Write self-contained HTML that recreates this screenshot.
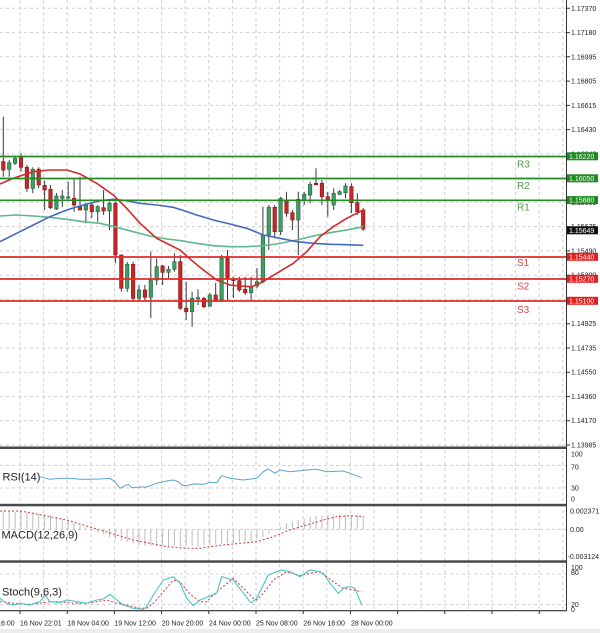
<!DOCTYPE html>
<html><head><meta charset="utf-8">
<style>
html,body{margin:0;padding:0;background:#fff;}
svg{display:block;}
text{font-family:"Liberation Sans",Arial,sans-serif;}
</style></head>
<body>
<svg width="600" height="633" viewBox="0 0 600 633" xmlns="http://www.w3.org/2000/svg">
<rect x="0" y="0" width="600" height="633" fill="#ffffff"/>
<rect x="0" y="629" width="600" height="4" fill="#ececec"/>

<!-- vertical grid -->
<path d="M20 0V610M43.6 0V610M67.2 0V610M90.8 0V610M114.4 0V610M138 0V610M161.6 0V610M185.2 0V610M208.8 0V610M232.4 0V610M256 0V610M279.6 0V610M303.2 0V610M326.8 0V610M350.4 0V610M374 0V610M397.6 0V610M421.2 0V610M444.8 0V610M468.4 0V610M492 0V610M515.6 0V610M539.2 0V610M562.8 0V610" stroke="#cfcfcf" stroke-width="1" stroke-dasharray="3 3" fill="none"/>
<!-- horizontal grid main -->
<path d="M0 8.3H566M0 32.6H566M0 56.8H566M0 81.1H566M0 105.4H566M0 129.6H566M0 153.9H566M0 178.1H566M0 202.4H566M0 226.6H566M0 250.9H566M0 275.2H566M0 299.4H566M0 323.7H566M0 348H566M0 372.2H566M0 396.5H566M0 420.7H566M0 445H566" stroke="#cfcfcf" stroke-width="1" stroke-dasharray="3 3" fill="none"/>
<!-- indicator horizontal grid -->
<path d="M0 465.5H566M0 488H566M0 529.5H566M0 574H566M0 604.5H566" stroke="#cfcfcf" stroke-width="1" stroke-dasharray="3 3" fill="none"/>

<!-- wicks -->
<path d="M3.3 116.7V176.7M9.2 160V176.7M15.1 156.7V165M21 153.3V171.7M26.9 165V191.7M32.8 167.3V193.3M38.7 167.3V188.3M44.6 180.7V210M50.5 185V209M56.4 193V210M62.3 190V207.3M68.2 181.7V199.3M74.1 178.3V211.7M80 176.7V210M85.9 203.3V223.3M91.8 203V218M97.7 205V221.7M103.6 190V215M109.5 201.7V230M115.4 201.7V263.3M121.3 255V291.7M127.2 261.7V291.7M133.1 261.7V301.7M139 285V300M144.9 285V300M150.8 251.7V318M156.7 258.3V285M162.6 265V285M168.5 266V278M174.4 253.3V271.7M180.3 255V310M186.2 281.7V320M192.1 291.7V326.7M198 289.3V305M203.9 296.7V308.3M209.8 292.7V307M215.7 283V301.7M221.6 255V301.7M227.5 250V300M233.4 276.7V298M239.3 276.7V291.7M245.2 276.7V295M251.1 276.7V300M257 268V288.3M262.9 206.7V283.3M268.8 205V250M274.7 205V238.3M280.6 196.7V235M286.5 191.7V216.7M292.4 210V230M298.3 191.7V255M304.2 191.7V205M310.1 181.7V203.3M316 168.3V185M321.9 180V205M327.8 191.7V216.7M333.7 188.3V210M339.6 190V195M345.5 183.3V198.3M351.4 183.3V213.3M357.3 193.3V215M363.2 208.3V231" stroke="#3a3a3a" stroke-width="1" fill="none"/>

<!-- green bodies -->
<g fill="#3f9e64" stroke="#2a6a42" stroke-width="0.7">
<rect x="7.5" y="162.7" width="3.4" height="6.6"/>
<rect x="13.4" y="158.3" width="3.4" height="5"/>
<rect x="31.1" y="169.3" width="3.4" height="19"/>
<rect x="54.7" y="196" width="3.4" height="13"/>
<rect x="60.6" y="196" width="3.4" height="2.3"/>
<rect x="66.5" y="197" width="3.4" height="1"/>
<rect x="84.2" y="205" width="3.4" height="5"/>
<rect x="96" y="206.7" width="3.4" height="5"/>
<rect x="107.8" y="203.3" width="3.4" height="7.7"/>
<rect x="125.5" y="264.3" width="3.4" height="24"/>
<rect x="137.3" y="290" width="3.4" height="8.3"/>
<rect x="149.1" y="280" width="3.4" height="17.3"/>
<rect x="155" y="266.7" width="3.4" height="13.3"/>
<rect x="166.8" y="269.3" width="3.4" height="3"/>
<rect x="172.7" y="261.7" width="3.4" height="7.6"/>
<rect x="190.4" y="298.3" width="3.4" height="13.4"/>
<rect x="196.3" y="297.7" width="3.4" height="1.2"/>
<rect x="208.1" y="295" width="3.4" height="11"/>
<rect x="219.9" y="258.3" width="3.4" height="41.7"/>
<rect x="249.4" y="286.7" width="3.4" height="6"/>
<rect x="255.3" y="281.7" width="3.4" height="4.3"/>
<rect x="261.2" y="235" width="3.4" height="46.7"/>
<rect x="267.1" y="207.3" width="3.4" height="27.7"/>
<rect x="278.9" y="198.3" width="3.4" height="33.4"/>
<rect x="296.6" y="199.3" width="3.4" height="20.7"/>
<rect x="302.5" y="194.3" width="3.4" height="5.7"/>
<rect x="308.4" y="184.3" width="3.4" height="10.7"/>
<rect x="332" y="193.3" width="3.4" height="11.7"/>
<rect x="337.9" y="191.7" width="3.4" height="2.6"/>
<rect x="343.8" y="186" width="3.4" height="6.7"/>
</g>
<!-- red bodies -->
<g fill="#c62828" stroke="#8a1a1a" stroke-width="0.7">
<rect x="1.6" y="161.7" width="3.4" height="8.3"/>
<rect x="19.3" y="156.7" width="3.4" height="10.6"/>
<rect x="25.2" y="167.3" width="3.4" height="21"/>
<rect x="37" y="169.3" width="3.4" height="15.7"/>
<rect x="42.9" y="185.3" width="3.4" height="4.7"/>
<rect x="48.8" y="189.3" width="3.4" height="18.4"/>
<rect x="72.4" y="198.3" width="3.4" height="6.7"/>
<rect x="78.3" y="206" width="3.4" height="4"/>
<rect x="90.1" y="205" width="3.4" height="6.7"/>
<rect x="101.9" y="207.7" width="3.4" height="3.3"/>
<rect x="113.7" y="203.3" width="3.4" height="51.7"/>
<rect x="119.6" y="255" width="3.4" height="33.3"/>
<rect x="131.4" y="264.3" width="3.4" height="34"/>
<rect x="143.2" y="290" width="3.4" height="7.3"/>
<rect x="160.9" y="266" width="3.4" height="6.3"/>
<rect x="178.6" y="261.7" width="3.4" height="46.6"/>
<rect x="184.5" y="308.3" width="3.4" height="3.4"/>
<rect x="202.2" y="298.3" width="3.4" height="8.4"/>
<rect x="214" y="295" width="3.4" height="5.7"/>
<rect x="225.8" y="256.7" width="3.4" height="21.6"/>
<rect x="231.7" y="279.3" width="3.4" height="1.4"/>
<rect x="237.6" y="280.7" width="3.4" height="9.3"/>
<rect x="243.5" y="289.3" width="3.4" height="3.4"/>
<rect x="273" y="207.3" width="3.4" height="24.4"/>
<rect x="284.8" y="200" width="3.4" height="13.3"/>
<rect x="290.7" y="212.7" width="3.4" height="7.3"/>
<rect x="314.3" y="183.3" width="3.4" height="1.5"/>
<rect x="320.2" y="183.3" width="3.4" height="13.4"/>
<rect x="326.1" y="196.7" width="3.4" height="3.3"/>
<rect x="349.7" y="186.7" width="3.4" height="16"/>
<rect x="355.6" y="202.7" width="3.4" height="9"/>
<rect x="361.5" y="210" width="3.4" height="19"/>
</g>

<!-- moving averages -->
<polyline fill="none" stroke="#5cb98a" stroke-width="1.6" points="0,216 16.7,215 33.3,216 50,217.3 66.7,219.3 83.3,221.7 100,223.3 116.7,227.3 133.3,231.7 150,236 166.7,239 180,240.5 196.7,243.3 213.3,245.7 230,246.7 246.7,246.7 263.3,245.7 276.7,244 296.7,240 313.3,236 330,232.7 346.7,230 363.3,226.7"/>
<polyline fill="none" stroke="#4569c2" stroke-width="1.6" points="0,241.7 16.7,233.3 33.3,225 50,216.7 66.7,210 83.3,205 100,200.7 113.3,199.3 126.7,200.7 140,203.3 156.7,205 173.3,207.3 185,211 196.7,215 213.3,220 230,224 246.7,228.3 263.3,235 280,238.3 296.7,241.7 313.3,243.3 330,244.3 346.7,244.7 363.3,245.3"/>
<polyline fill="none" stroke="#d42a2a" stroke-width="1.6" points="0,184 13.3,178.3 33.3,171.7 50,170 66.7,170 80,174 96.7,183.3 113.3,195 126.7,208.3 140,223.3 156.7,238.3 170,245 180,250 190,259 203.3,270 216.7,280 230,285 240,286 251.7,286.7 260,283.3 276.7,273.3 293.3,263.3 306.7,251.7 320,236.7 333.3,226.7 346.7,218.3 356.7,213.3 363.3,210"/>

<!-- support / resistance -->
<g stroke-width="1.7">
<line x1="0" y1="156.5" x2="567" y2="156.5" stroke="#248a24"/>
<line x1="0" y1="178.5" x2="567" y2="178.5" stroke="#248a24"/>
<line x1="0" y1="200.3" x2="567" y2="200.3" stroke="#248a24"/>
<line x1="0" y1="257" x2="567" y2="257" stroke="#e02b2b"/>
<line x1="0" y1="279" x2="567" y2="279" stroke="#e02b2b"/>
<line x1="0" y1="301" x2="567" y2="301" stroke="#e02b2b"/>
</g>
<g font-size="10">
<text x="517" y="167.5" fill="#4f9a4f">R3</text>
<text x="517" y="189" fill="#4f9a4f">R2</text>
<text x="517" y="210.5" fill="#4f9a4f">R1</text>
<text x="517" y="266" fill="#d24a4a">S1</text>
<text x="517" y="289.5" fill="#d24a4a">S2</text>
<text x="517" y="313" fill="#d24a4a">S3</text>
</g>

<!-- RSI -->
<polyline fill="none" stroke="#5ba3cf" stroke-width="1" points="40,476.7 50,479.3 60,478.3 70,478.3 80,479.3 90,479.3 100,479 110,478.3 115,481.7 120,488.3 125,485.7 128.3,484.3 131.7,487.7 140,487 146.7,487 156.7,483.3 166.7,481 173.3,480 178.3,481.7 181.7,485 186.7,485.7 193,484 203.3,484.3 210,482.3 216.7,482.7 221.7,475.7 230,478.3 243.3,480 256.7,478.3 263.3,471.7 268.3,469 275,473.3 280,470 290,471.7 306.7,470 316.7,469.3 326.7,471.7 343.3,471 350,473.3 361.7,477.7"/>
<text x="2.5" y="480.5" font-size="11" fill="#222">RSI(14)</text>

<!-- MACD histogram -->
<path d="M3.3 529.5V511M9.2 529.5V511.3M15.1 529.5V511.7M21 529.5V512M26.9 529.5V512.5M32.8 529.5V513M38.7 529.5V513.7M44.6 529.5V514.4M50.5 529.5V515M56.4 529.5V516.8M62.3 529.5V518.6M68.2 529.5V520.5M74.1 529.5V522.7M80 529.5V525M85.9 529.5V527.2M91.8 529.5V531M97.7 529.5V532.5M103.6 529.5V534.6M109.5 529.5V537M115.4 529.5V539M121.3 529.5V540.8M127.2 529.5V542M133.1 529.5V543.5M139 529.5V545M144.9 529.5V545.5M150.8 529.5V546M156.7 529.5V546M162.6 529.5V546M168.5 529.5V546M174.4 529.5V546M180.3 529.5V546M186.2 529.5V546M192.1 529.5V546M198 529.5V546M203.9 529.5V545.5M209.8 529.5V545M215.7 529.5V544.5M221.6 529.5V544M227.5 529.5V543.5M233.4 529.5V543M239.3 529.5V542M245.2 529.5V541.5M251.1 529.5V541M257 529.5V539.5M262.9 529.5V537M268.8 529.5V534M274.7 529.5V531M280.6 529.5V527M286.5 529.5V523M292.4 529.5V521.5M298.3 529.5V520M304.2 529.5V518.5M310.1 529.5V517M316 529.5V516M321.9 529.5V515.5M327.8 529.5V515M333.7 529.5V515M339.6 529.5V515M345.5 529.5V515M351.4 529.5V515M357.3 529.5V515M363.2 529.5V515" stroke="#bdbdbd" stroke-width="1" fill="none"/>
<polyline fill="none" stroke="#cf3a3a" stroke-width="1" stroke-dasharray="2 2" points="0,511 20,511 33.3,513.3 50,516.7 66.7,520 83.3,525 100,530 116.7,535 133.3,540 150,543.3 166.7,546.7 186.7,548.3 200,548.3 210,546.7 223.3,545 240,543.3 256.7,541.7 273.3,536.7 290,530 306.7,525 323.3,520 336.7,516.7 350,515.7 363.3,516.7"/>
<text x="1.5" y="538.5" font-size="11" fill="#222">MACD(12,26,9)</text>

<!-- Stochastic -->
<polyline fill="none" stroke="#cf3a3a" stroke-width="1" stroke-dasharray="2 2" points="0,601.7 13.3,603.3 26.7,604.3 40,603.3 50,601.7 60,601.7 73.3,603.3 86.7,603.3 96.7,601.7 106.7,600 116.7,603.3 126.7,605 140,608.3 146.7,608.3 153.3,603.3 163.3,591.7 173.3,580 180,581.7 190,594 200,601.7 206.7,601.7 216.7,591.7 233.3,578.3 243.3,588.3 253.3,598.3 256.7,600 263.3,593.3 273.3,580 286.7,571.7 300,575.7 310,573.3 320,571.7 333.3,581.7 343.3,588.3 353.3,590 361.7,591.7"/>
<polyline fill="none" stroke="#4fc4c4" stroke-width="1.1" points="0,598.3 6.7,603.3 13.3,605 20,603.3 30,605 40,601.7 45,595 50,601.7 60,602.7 66.7,600 76.7,601.7 86.7,603.3 96.7,600 103.3,599 110,594.3 116.7,600 123.3,605 133.3,608.3 143.3,609.3 146.7,606.7 153.3,595 163.3,580 173.3,576.7 180,583.3 186.7,598.3 193.3,605.7 200,600 216.7,593.3 221.7,576.7 233.3,580 250,601.7 251.7,602.7 256.7,598.3 268.3,575 281.7,570 290,571.7 300,576.7 310,570 316.7,571 323.3,573.3 330,583.3 338.3,593.3 345,587.3 350,586.7 355,588.3 361.7,605"/>
<text x="2" y="595.5" font-size="11" fill="#222">Stoch(9,6,3)</text>

<!-- panel separators -->
<rect x="0" y="446.5" width="567" height="2.5" fill="#4a4a4a"/>
<rect x="0" y="503.8" width="567" height="2.5" fill="#4a4a4a"/>
<rect x="0" y="560.3" width="567" height="2.5" fill="#4a4a4a"/>
<rect x="0" y="610" width="567" height="1.3" fill="#4a4a4a"/>
<line x1="566.5" y1="0" x2="566.5" y2="611" stroke="#333" stroke-width="1"/>

<!-- right axis ticks -->
<path d="M567 8.3H570M567 32.6H570M567 56.8H570M567 81.1H570M567 105.4H570M567 129.6H570M567 153.9H570M567 178.1H570M567 202.4H570M567 226.6H570M567 250.9H570M567 275.2H570M567 299.4H570M567 323.7H570M567 348H570M567 372.2H570M567 396.5H570M567 420.7H570M567 445H570" stroke="#333" stroke-width="1"/>

<!-- price labels -->
<g font-size="7" fill="#222">
<text x="571" y="10.8">1.17370</text>
<text x="571" y="35.1">1.17180</text>
<text x="571" y="59.3">1.16995</text>
<text x="571" y="83.6">1.16805</text>
<text x="571" y="107.9">1.16615</text>
<text x="571" y="132.1">1.16430</text>
<text x="571" y="156.4">1.16240</text>
<text x="571" y="180.6">1.16050</text>
<text x="571" y="204.9">1.15865</text>
<text x="571" y="229.1">1.15675</text>
<text x="571" y="253.4">1.15490</text>
<text x="571" y="277.7">1.15300</text>
<text x="571" y="301.9">1.15110</text>
<text x="571" y="326.2">1.14925</text>
<text x="571" y="350.5">1.14735</text>
<text x="571" y="374.7">1.14550</text>
<text x="571" y="399">1.14360</text>
<text x="571" y="423.2">1.14170</text>
<text x="571" y="447.5">1.13985</text>
</g>

<!-- price tags -->
<rect x="567" y="152.3" width="31" height="8" fill="#1f8a1f"/>
<rect x="567" y="174.3" width="31" height="8" fill="#1f8a1f"/>
<rect x="567" y="196.1" width="31" height="8" fill="#1f8a1f"/>
<rect x="567" y="226.3" width="31" height="8" fill="#111"/>
<rect x="567" y="252.8" width="31" height="8" fill="#e02020"/>
<rect x="567" y="274.8" width="31" height="8" fill="#e02020"/>
<rect x="567" y="296.8" width="31" height="8" fill="#e02020"/>
<g font-size="7" fill="#fff">
<text x="569" y="158.8">1.16220</text>
<text x="569" y="180.8">1.16050</text>
<text x="569" y="202.6">1.15880</text>
<text x="569" y="232.8">1.15649</text>
<text x="569" y="259.3">1.15440</text>
<text x="569" y="281.3">1.15270</text>
<text x="569" y="303.3">1.15100</text>
</g>

<!-- indicator scale labels -->
<g font-size="7" fill="#222">
<text x="571" y="456.5">100</text>
<text x="571" y="469.5">70</text>
<text x="571" y="490.5">30</text>
<text x="571" y="501.5">0</text>
<text x="570" y="513.5">0.002371</text>
<text x="570" y="531.8">0.00</text>
<text x="567.5" y="559.2">-0.003124</text>
<text x="571" y="570">100</text>
<text x="571" y="575">80</text>
<text x="571" y="607">20</text>
<text x="571" y="611.8">0</text>
</g>

<!-- x axis ticks & labels -->
<path d="M20 611V614M67.2 611V614M114.4 611V614M161.6 611V614M208.8 611V614M256 611V614M303.2 611V614M350.4 611V614M397.6 611V614M444.8 611V614M492 611V614M539.2 611V614" stroke="#333" stroke-width="1"/>
<g font-size="7" fill="#222">
<text x="-27" y="625.5">15 Nov 16:00</text>
<text x="20" y="625.5">16 Nov 22:01</text>
<text x="67.3" y="625.5">18 Nov 04:00</text>
<text x="114.3" y="625.5">19 Nov 12:00</text>
<text x="161.7" y="625.5">20 Nov 20:00</text>
<text x="209" y="625.5">24 Nov 00:00</text>
<text x="256" y="625.5">25 Nov 08:00</text>
<text x="303.3" y="625.5">26 Nov 16:00</text>
<text x="351" y="625.5">28 Nov 00:00</text>
</g>
</svg>
</body></html>
